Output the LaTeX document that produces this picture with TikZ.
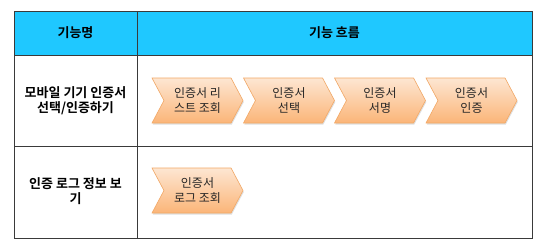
\documentclass[tikz,border=0pt]{standalone}
\usepackage{fontspec}
\setmainfont{Noto Sans CJK KR}
\newfontfamily\krbold{Noto Sans CJK KR Bold}
\usetikzlibrary{shapes.symbols,shadows}
\definecolor{hdr}{HTML}{1FC8FF}
\definecolor{chevtop}{HTML}{FDE6D2}
\definecolor{chevbot}{HTML}{FBB578}
\definecolor{chevline}{HTML}{F2A866}
\definecolor{gridline}{HTML}{3A3A3A}
\tikzset{
  chev/.style={shape=signal, signal to=east, signal from=west, signal pointer angle=124,
    minimum width=91pt, minimum height=45pt, inner sep=0pt, draw=chevline, line width=0.6pt,
    top color=chevtop, bottom color=chevbot, align=center, font=\fontsize{12}{14.5}\selectfont,
    text=black!85, drop shadow={opacity=0.25, shadow xshift=0.8pt, shadow yshift=-1.5pt}},
  lbl/.style={align=center, font=\krbold\fontsize{13}{15}\selectfont, text=black},
  grid/.style={draw=gridline, line width=0.9pt}
}
\begin{document}
\begin{tikzpicture}[x=1pt,y=-1pt]
\useasboundingbox (0,0) rectangle (547,247);
\fill[hdr] (14,11) rectangle (532,55);
\draw[grid] (14,11) rectangle (532,238);
\draw[grid] (14,55) -- (532,55);
\draw[grid] (14,146) -- (532,146);
\draw[grid] (137,11) -- (137,238);
\node[lbl] (h1) at (75.5,33) {기능명};
\node[lbl] (h2) at (334.5,33) {기능 흐름};
\node[lbl] (r1) at (75.5,101) {모바일 기기 인증서\\선택/인증하기};
\node[lbl] (r2) at (75.5,191) {인증 로그 정보 보\\기};
\node[chev] (c1) at (197.5,100.5) {인증서 리\\스트 조회};
\node[chev] (c2) at (289,100.5) {인증서\\선택};
\node[chev] (c3) at (380,100.5) {인증서\\서명};
\node[chev] (c4) at (471.5,100.5) {인증서\\인증};
\node[chev] (c5) at (197.5,190.5) {인증서\\로그 조회};
\end{tikzpicture}
\end{document}
